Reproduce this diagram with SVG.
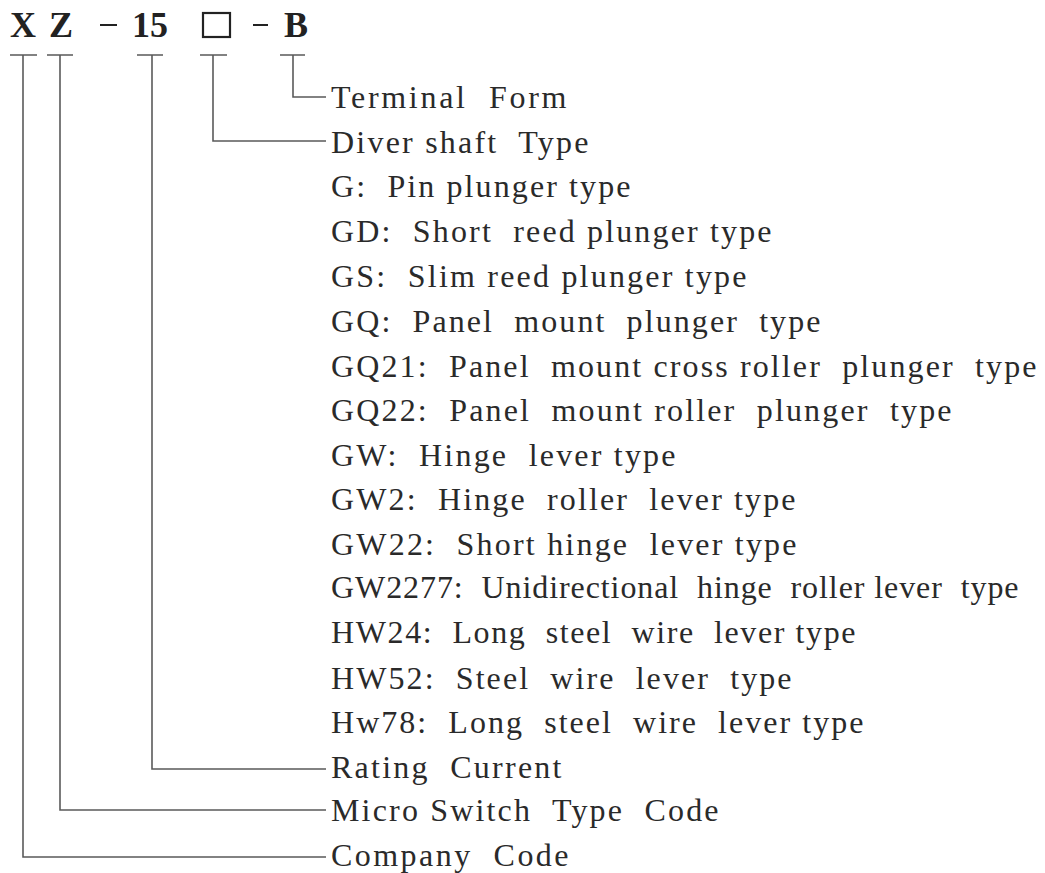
<svg xmlns="http://www.w3.org/2000/svg" width="1045" height="873" viewBox="0 0 1045 873">
<style>
.hd{font-family:"Liberation Serif","Times New Roman",serif;font-weight:bold;font-size:36px;fill:#222}
.lb{font-family:"Liberation Serif","Times New Roman",serif;font-size:32px;letter-spacing:1.5px;fill:#2a2a2a;white-space:pre}
.ln{fill:none;stroke:#5a5a5a;stroke-width:1.6}
</style>
<rect width="1045" height="873" fill="#ffffff"/>
<g id="header">
<text class="hd" x="10" y="37">X</text>
<text class="hd" x="49" y="37">Z</text>
<rect x="100" y="24" width="17" height="2" fill="#222"/>
<text class="hd" x="132" y="37">15</text>
<rect x="203" y="13" width="27" height="24" fill="none" stroke="#222" stroke-width="2.2"/>
<rect x="253" y="24" width="15" height="2" fill="#222"/>
<text class="hd" x="284" y="37">B</text>
</g>
<g id="connectors">
<path class="ln" d="M10 55H37M23 55V857H326"/>
<path class="ln" d="M47 55H73M60 55V810H326"/>
<path class="ln" d="M137 55H163M152 55V769H326"/>
<path class="ln" d="M200 55H227M213 55V141H326"/>
<path class="ln" d="M280 55H305M293 55V97H326"/>
</g>
<g id="terminal-form"><text class="lb" xml:space="preserve" x="331" y="108" textLength="237" lengthAdjust="spacing">Terminal  Form</text></g>
<g id="driver-shaft-type">
<text class="lb" xml:space="preserve" x="331" y="152.5" textLength="259" lengthAdjust="spacing">Diver shaft  Type</text>
<text class="lb" xml:space="preserve" x="331" y="197" textLength="301" lengthAdjust="spacing">G:  Pin plunger type</text>
<text class="lb" xml:space="preserve" x="331" y="242" textLength="442" lengthAdjust="spacing">GD:  Short  reed plunger type</text>
<text class="lb" xml:space="preserve" x="331" y="287" textLength="417" lengthAdjust="spacing">GS:  Slim reed plunger type</text>
<text class="lb" xml:space="preserve" x="331" y="332" textLength="491" lengthAdjust="spacing">GQ:  Panel  mount  plunger  type</text>
<text class="lb" xml:space="preserve" x="331" y="377" textLength="707" lengthAdjust="spacing">GQ21:  Panel  mount cross roller  plunger  type</text>
<text class="lb" xml:space="preserve" x="331" y="421" textLength="622" lengthAdjust="spacing">GQ22:  Panel  mount roller  plunger  type</text>
<text class="lb" xml:space="preserve" x="331" y="465.5" textLength="346" lengthAdjust="spacing">GW:  Hinge  lever type</text>
<text class="lb" xml:space="preserve" x="331" y="510" textLength="466" lengthAdjust="spacing">GW2:  Hinge  roller  lever type</text>
<text class="lb" xml:space="preserve" x="331" y="554.5" textLength="467" lengthAdjust="spacing">GW22:  Short hinge  lever type</text>
<text class="lb" xml:space="preserve" x="331" y="598" textLength="689" lengthAdjust="spacing">GW2277:  Unidirectional  hinge  roller lever  type</text>
<text class="lb" xml:space="preserve" x="331" y="643" textLength="526" lengthAdjust="spacing">HW24:  Long  steel  wire  lever type</text>
<text class="lb" xml:space="preserve" x="331" y="688.5" textLength="462" lengthAdjust="spacing">HW52:  Steel  wire  lever  type</text>
<text class="lb" xml:space="preserve" x="331" y="733" textLength="534" lengthAdjust="spacing">Hw78:  Long  steel  wire  lever type</text>
</g>
<g id="rating-current"><text class="lb" xml:space="preserve" x="331" y="778" textLength="232" lengthAdjust="spacing">Rating  Current</text></g>
<g id="micro-switch-type-code"><text class="lb" xml:space="preserve" x="331" y="821" textLength="389" lengthAdjust="spacing">Micro Switch  Type  Code</text></g>
<g id="company-code"><text class="lb" xml:space="preserve" x="331" y="866" textLength="239" lengthAdjust="spacing">Company  Code</text></g>
</svg>
